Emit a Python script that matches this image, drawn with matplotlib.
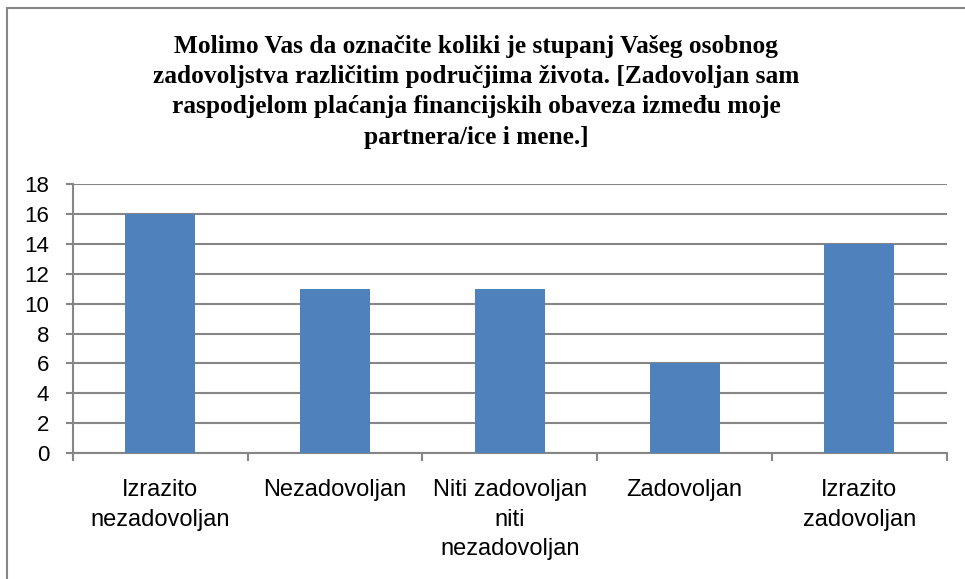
import matplotlib.pyplot as plt
from matplotlib.patches import Rectangle

categories = [
    "Izrazito\nnezadovoljan",
    "Nezadovoljan",
    "Niti zadovoljan\nniti\nnezadovoljan",
    "Zadovoljan",
    "Izrazito\nzadovoljan",
]
counts = [16, 11, 11, 6, 14]
y_ticks = list(range(0, 19, 2))

title = ("Molimo Vas da označite koliki je stupanj Vašeg osobnog\n"
         "zadovoljstva različitim područjima života. [Zadovoljan sam\n"
         "raspodjelom plaćanja financijskih obaveza između moje\n"
         "partnera/ice i mene.]")

fig = plt.figure(figsize=(9.65, 5.79), dpi=100)
ax = fig.add_axes([0.0756, 0.2176, 0.9054, 0.4644])

# chart border; right and bottom edges run past the canvas
fig.patches.append(Rectangle((6.5 / 965, -0.05), 1.1, 1 - 7.5 / 579 + 0.05,
                             transform=fig.transFigure, fill=False,
                             edgecolor="#868686", linewidth=1.5))

x = range(len(categories))
ax.bar(x, counts, width=0.4, color="#4F81BD", zorder=3)

ax.set_xlim(-0.5, len(categories) - 0.5)
ax.set_ylim(0, 18)
ax.set_yticks(y_ticks)
ax.yaxis.grid(True, color="#868686", linewidth=1.5, zorder=0)
ax.set_axisbelow(True)

for side in ("top", "right"):
    ax.spines[side].set_visible(False)
for side in ("left", "bottom"):
    ax.spines[side].set_color("#868686")
    ax.spines[side].set_linewidth(1.5)

# category labels centred, tick marks on category boundaries
ax.set_xticks([i - 0.5 for i in range(len(categories) + 1)])
ax.set_xticklabels([])
ax.tick_params(axis="x", length=6, width=1.5, color="#868686", direction="out")
ax.tick_params(axis="y", length=5, width=1.5, color="#868686", direction="out",
               labelsize=16, pad=12)
for lab in ax.get_yticklabels():
    lab.set_family("Liberation Sans")
for i, c in enumerate(categories):
    ax.text(i, -1.75, c, ha="center", va="top", fontsize=17,
            family="Liberation Sans", linespacing=1.44,
            transform=ax.transData)

fig.text(0.4935, 0.94, title, ha="center", va="top", fontsize=18.3,
         fontweight="bold", family="Liberation Serif", linespacing=1.41)

fig.savefig("out.png", dpi=100)
